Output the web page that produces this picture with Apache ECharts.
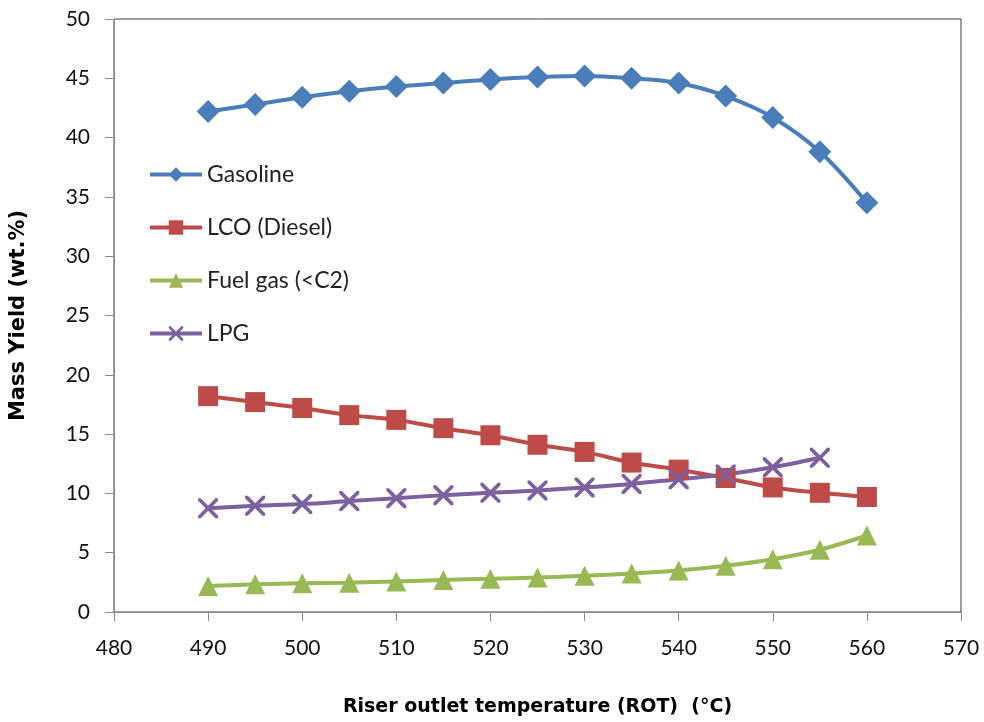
<!DOCTYPE html>
<html>
<head>
<meta charset="utf-8">
<script src="https://cdn.jsdelivr.net/npm/echarts@6/dist/echarts.min.js"></script>
<style>
  html, body { margin: 0; padding: 0; background: #fff; }
  #chart { width: 984px; height: 722px; }
</style>
</head>
<body>
<div id="chart"></div>
<script>
// Riser outlet temperature (°C)
const temperatures = [490, 495, 500, 505, 510, 515, 520, 525, 530, 535, 540, 545, 550, 555, 560];

// Product mass yields (wt.%)
const gasoline = [42.2, 42.8, 43.4, 43.9, 44.3, 44.6, 44.9, 45.1, 45.2, 45.0, 44.6, 43.5, 41.7, 38.8, 34.5];
const lco      = [18.2, 17.7, 17.2, 16.6, 16.2, 15.5, 14.9, 14.1, 13.5, 12.6, 12.0, 11.3, 10.5, 10.05, 9.7];
const fuelGas  = [2.2, 2.33, 2.42, 2.47, 2.58, 2.7, 2.8, 2.9, 3.05, 3.25, 3.5, 3.9, 4.45, 5.25, 6.45];
const lpg      = [8.75, 8.95, 9.1, 9.35, 9.6, 9.85, 10.05, 10.25, 10.5, 10.8, 11.2, 11.6, 12.2, 13.0];

const seriesNames = ['Gasoline', 'LCO (Diesel)', 'Fuel gas (<C2)', 'LPG'];
const xTicks = { min: 480, max: 570, step: 10 };
const yTicks = { min: 0, max: 50, step: 5 };

const pairs = (ys) => ys.map((y, i) => [temperatures[i], y]);

const crossPath = 'path://M0,0L1.3,0L10,8.7L10,10L8.7,10L0,1.3Z M10,0L10,1.3L1.3,10L0,10L0,8.7L8.7,0Z';
const font = 'Lato, "Open Sans", sans-serif';
const titleFont = '"DejaVu Sans", Verdana, sans-serif';

const chart = echarts.init(document.getElementById('chart'));

function lineSeries(name, data, color, symbol, size) {
  return {
    name: name,
    type: 'line',
    data: pairs(data),
    smooth: 0.35,
    symbol: symbol,
    symbolSize: size,
    showAllSymbol: true,
    lineStyle: { color: color, width: 4 },
    itemStyle: { color: color },
    z: 2
  };
}

chart.setOption({
  animation: false,
  backgroundColor: '#fff',
  grid: {
    left: 108, right: 23, top: 19, bottom: 103,
    show: true, borderColor: '#404040', borderWidth: 1, backgroundColor: 'transparent'
  },
  legend: {
    orient: 'vertical',
    left: 143,
    top: 158,
    itemWidth: 52,
    itemHeight: 18,
    itemGap: 30,
    lineStyle: { width: 4 },
    textStyle: { fontFamily: font, fontSize: 23, color: '#222' },
    data: seriesNames
  },
  xAxis: {
    type: 'value',
    min: xTicks.min,
    max: xTicks.max,
    interval: xTicks.step,
    name: 'Riser outlet temperature (ROT)  (°C)',
    nameLocation: 'middle',
    nameGap: 86,
    nameTextStyle: { fontFamily: titleFont, fontSize: 19, fontWeight: 'bold', color: '#000' },
    axisLine: { lineStyle: { color: '#8a8a8a', width: 1 } },
    axisTick: { show: true, length: 9, lineStyle: { color: '#8a8a8a' } },
    axisLabel: { fontFamily: font, fontSize: 21, color: '#111', margin: 26 },
    splitLine: { show: false }
  },
  yAxis: {
    type: 'value',
    min: yTicks.min,
    max: yTicks.max,
    interval: yTicks.step,
    name: 'Mass Yield (wt.%)',
    nameLocation: 'middle',
    nameGap: 85,
    nameRotate: 90,
    nameTextStyle: { fontFamily: titleFont, fontSize: 21, fontWeight: 'bold', color: '#000' },
    axisLine: { show: true, lineStyle: { color: '#8a8a8a', width: 1 } },
    axisTick: { show: true, length: 9, lineStyle: { color: '#8a8a8a' } },
    axisLabel: { fontFamily: font, fontSize: 21, color: '#111', margin: 24 },
    splitLine: { show: false }
  },
  series: [
    lineSeries(seriesNames[0], gasoline, '#4A7EBB', 'diamond', 23),
    lineSeries(seriesNames[1], lco, '#BE4B48', 'rect', 20),
    lineSeries(seriesNames[2], fuelGas, '#98B954', 'triangle', 20),
    lineSeries(seriesNames[3], lpg, '#7D60A0', crossPath, 20)
  ]
});
</script>
</body>
</html>
